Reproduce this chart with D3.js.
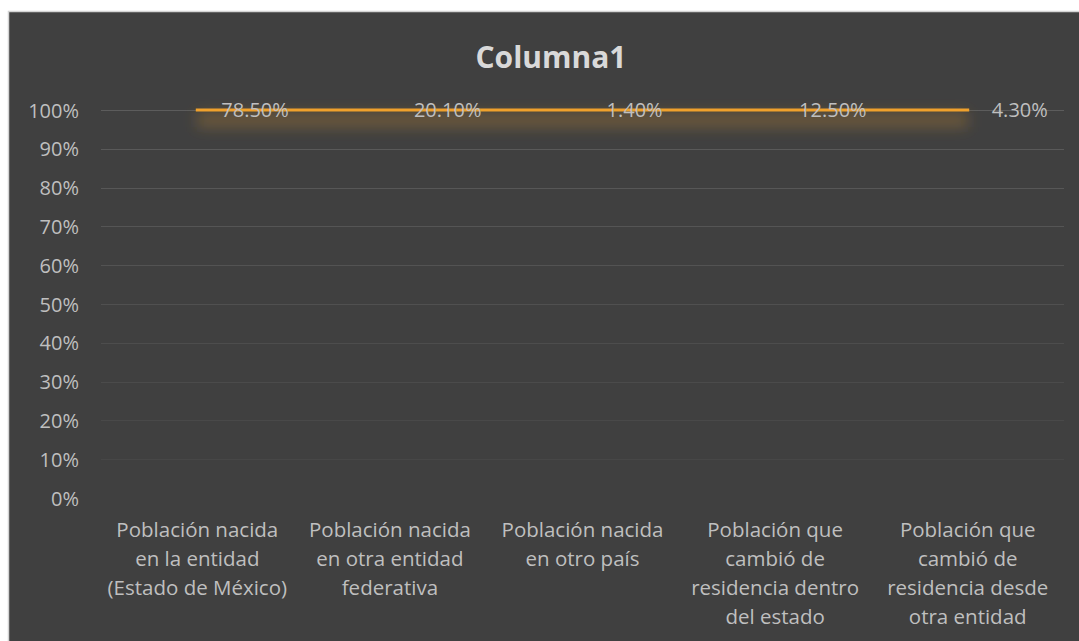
<!DOCTYPE html>
<html>
<head>
<meta charset="utf-8">
<script src="https://cdn.jsdelivr.net/npm/d3@7"></script>
<style>
  html, body { margin: 0; padding: 0; background: #ffffff; }
  svg { display: block; }
  text { font-family: "Open Sans", "Noto Sans", sans-serif; }
</style>
</head>
<body>
<svg id="chart" width="1079" height="641"></svg>
<script>
// ---- data ----
const title = "Columna1";
const categories = [
  "Población nacida\nen la entidad\n(Estado de México)",
  "Población nacida\nen otra entidad\nfederativa",
  "Población nacida\nen otro país",
  "Población que\ncambió de\nresidencia dentro\ndel estado",
  "Población que\ncambió de\nresidencia desde\notra entidad"
];
const values = [0.785, 0.201, 0.014, 0.125, 0.043];        // series "Columna1"
const stackedShare = [1, 1, 1, 1, 1];                          // 100% stacked: single series => 100%
const dataLabels = ["78.50%", "20.10%", "1.40%", "12.50%", "4.30%"];
const yTicks = [0, 0.1, 0.2, 0.3, 0.4, 0.5, 0.6, 0.7, 0.8, 0.9, 1.0];

// ---- layout ----
const W = 1079, H = 641;
const svg = d3.select("#chart");
const defs = svg.append("defs");

const glow = defs.append("filter").attr("id", "glow")
  .attr("filterUnits", "userSpaceOnUse")
  .attr("x", 0).attr("y", 0).attr("width", W).attr("height", H);
glow.append("feGaussianBlur").attr("in", "SourceGraphic").attr("stdDeviation", 7);

// background panel
svg.append("rect").attr("x", 8).attr("y", 11).attr("width", W - 8).attr("height", H - 11)
  .attr("fill", "#404040");
svg.append("path").attr("d", `M8.5,${H} V11.5 H${W}`).attr("fill", "none")
  .attr("stroke", "#d4d4d4").attr("stroke-width", 1.5);

const x = d3.scaleBand().domain(categories).range([101, 1064]);
const y = d3.scaleLinear().domain([0, 1]).range([498, 110]);
const cx = c => x(c) + x.bandwidth() / 2;

// title
svg.append("text").attr("x", 551).attr("y", 68).attr("text-anchor", "middle")
  .attr("font-size", 30).attr("font-weight", 700).attr("fill", "#d9d9d9").text(title);

// gridlines
svg.append("g").selectAll("line").data(yTicks.filter(t => t > 0)).join("line")
  .attr("x1", 101).attr("x2", 1064)
  .attr("y1", d => Math.round(y(d)) + 0.5).attr("y2", d => Math.round(y(d)) + 0.5)
  .attr("stroke", "#5c5c5c").attr("stroke-opacity", d => 0.15 + 0.85 * d);

// y axis
const yAxis = d3.axisLeft(y).tickValues(yTicks).tickFormat(d3.format(".0%")).tickSize(0).tickPadding(0);
const gy = svg.append("g").attr("transform", "translate(79,0)").call(yAxis);
gy.select(".domain").remove();
gy.selectAll("text").attr("font-size", 20).attr("fill", "#bfbfbf")
  .attr("font-family", "'Open Sans', sans-serif").attr("dy", "0.35em");

// x axis labels
const xAxis = d3.axisBottom(x).tickSize(0).tickFormat("");
const gx = svg.append("g").attr("transform", "translate(0,498)").call(xAxis);
gx.select(".domain").remove();
gx.selectAll(".tick").each(function(d) {
  const t = d3.select(this).append("text").attr("fill", "#bfbfbf").attr("font-size", 20.5)
    .attr("font-family", "'Open Sans', sans-serif").attr("text-anchor", "middle");
  d.split("\n").forEach((ln, i) => {
    t.append("tspan").attr("x", 0).attr("y", 39 + i * 29).text(ln);
  });
});

// line
const line = d3.line().x((d, i) => cx(categories[i])).y(d => y(d));
svg.append("path").datum(stackedShare)
  .attr("d", line).attr("fill", "none")
  .attr("stroke", "#b88430").attr("stroke-opacity", 0.38).attr("stroke-width", 14)
  .attr("transform", "translate(0,10)").attr("filter", "url(#glow)");
svg.append("path").datum(stackedShare)
  .attr("d", line).attr("fill", "none")
  .attr("stroke", "#f0a12c").attr("stroke-width", 3).attr("stroke-linecap", "square");

// data labels
svg.append("g").selectAll("text").data(values).join("text")
  .attr("x", (d, i) => cx(categories[i]) + 24)
  .attr("y", (d, i) => y(stackedShare[i]))
  .attr("dy", "0.36em")
  .attr("font-size", 20).attr("fill", "#bfbfbf")
  .text((d, i) => dataLabels[i]);
</script>
</body>
</html>
